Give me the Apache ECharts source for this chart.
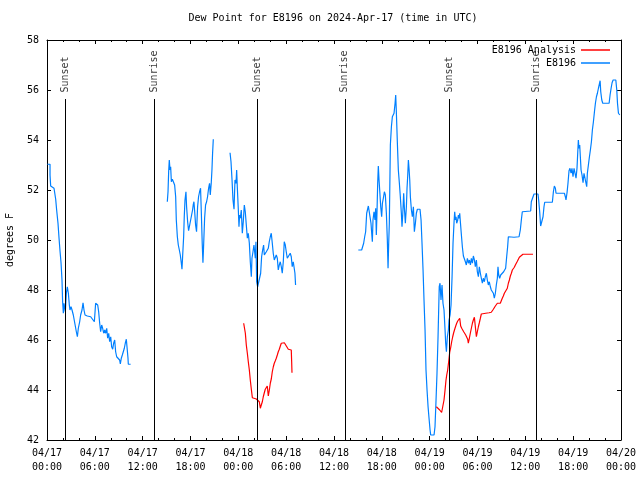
<!DOCTYPE html>
<html><head><meta charset="utf-8">
<script src="https://cdn.jsdelivr.net/npm/echarts@6/dist/echarts.min.js"></script>
<style>html,body{margin:0;padding:0;background:#fff}#c{width:640px;height:480px}</style>
</head><body><div id="c"></div>
<script>
// Hours since 2024-04-17 00:00 UTC; null marks a gap in the record
const blueHours = [
0.04,0.38,0.38,0.46,0.88,1.09,1.21,1.38,1.51,1.63,1.76,1.88,1.96,2.05,2.13,2.3,2.43,2.55,2.68,2.8,2.88,3.01,3.14,3.3,3.51,3.68,3.81,3.93,4.1,4.22,4.39,4.52,4.64,4.77,5.06,5.48,5.69,5.94,6.1,6.19,6.36,6.48,6.61,6.73,6.86,6.98,7.11,7.24,7.36,7.49,7.61,7.74,7.86,7.99,8.11,8.24,8.36,8.49,8.61,8.74,8.95,9.11,9.2,9.32,9.45,9.57,9.7,9.82,9.95,10.07,10.16,10.2,10.49,
12.8,
15.09,15.18,15.26,15.34,15.43,15.51,15.6,15.72,15.85,16.01,16.14,16.22,16.35,16.47,16.6,16.72,16.85,16.93,17.01,17.14,17.22,17.31,17.43,17.51,17.64,17.76,18.01,18.14,18.26,18.34,18.43,18.51,18.64,18.76,18.89,19.01,19.14,19.26,19.35,19.47,19.56,19.64,19.77,19.89,20.02,20.14,20.27,20.39,20.48,20.6,20.69,20.77,20.86,
21.9,
22.96,23.08,23.21,23.33,23.46,23.58,23.71,23.79,23.87,24.0,24.08,24.16,24.25,24.37,24.5,24.62,24.75,24.87,25.0,25.13,25.25,25.38,25.5,25.63,25.71,25.84,25.96,26.05,26.13,26.21,26.3,26.42,26.67,26.8,26.92,27.05,27.17,27.26,27.38,27.51,27.63,27.76,27.88,28.01,28.13,28.26,28.38,28.51,28.63,28.76,28.89,29.01,29.14,29.26,29.39,29.51,29.64,29.76,29.89,30.01,30.14,30.26,30.39,30.51,30.64,30.76,30.89,31.01,31.1,31.18,
35.0,
39.05,39.47,39.6,39.72,39.85,39.97,40.1,40.22,40.31,40.52,40.64,40.73,40.81,40.89,41.02,41.14,41.23,41.31,41.39,41.48,41.56,41.65,41.73,41.86,41.98,42.07,42.19,42.32,42.44,42.57,42.69,42.78,42.86,42.94,43.07,43.2,43.32,43.45,43.53,43.66,43.74,43.82,43.95,44.07,44.2,44.32,44.45,44.53,44.62,44.74,44.83,44.95,45.08,45.16,45.24,45.33,45.41,45.5,45.58,45.71,45.83,45.96,46.08,46.21,46.33,46.46,46.79,46.92,47.04,47.17,47.29,47.42,47.54,47.67,47.8,47.92,48.05,48.13,48.55,48.67,48.8,48.92,49.05,49.13,49.2,49.3,49.42,49.55,49.67,49.8,49.93,50.01,50.1,50.22,50.35,50.43,50.56,50.68,50.81,50.93,51.06,51.14,51.23,51.31,51.39,51.52,51.6,51.69,51.77,51.85,51.98,52.1,52.23,52.35,52.48,52.6,52.73,52.86,52.98,53.11,53.23,53.36,53.48,53.61,53.73,53.86,53.98,54.11,54.23,54.36,54.48,54.61,54.73,54.86,54.98,55.11,55.23,55.36,55.48,55.61,55.73,55.86,55.99,56.11,56.24,56.36,56.49,56.57,56.66,56.78,56.91,57.03,57.16,57.28,57.41,57.53,57.66,57.78,57.87,58.58,59.21,59.37,59.5,59.62,59.75,60.67,60.75,61.0,61.09,61.59,61.67,61.8,61.92,62.09,62.22,62.34,62.43,63.39,63.52,63.64,63.77,63.85,64.9,65.02,65.1,65.23,65.35,65.48,65.6,65.73,65.85,65.98,66.11,66.23,66.36,66.48,66.57,66.65,66.73,66.82,66.9,66.99,67.11,67.24,67.36,67.49,67.61,67.7,67.78,67.91,68.04,68.16,68.29,68.41,68.54,68.67,68.79,68.92,69.04,69.17,69.29,69.38,69.46,69.59,69.71,70.51,70.63,70.76,70.88,71.01,71.35,71.47,71.56,71.68,71.85
];
const blueDewF = [
53.03,53.03,52.6,52.16,52.07,51.63,51.2,50.67,50.07,49.57,49.09,48.4,47.53,47.07,47.47,47.13,47.87,48.13,47.87,47.4,47.2,47.33,47.2,47.0,46.93,46.33,46.13,46.47,46.73,47.0,47.2,47.49,47.2,47.0,46.96,46.93,46.87,46.73,47.47,47.53,47.4,47.13,46.67,46.33,46.6,46.47,46.27,46.4,46.27,46.47,46.07,46.27,45.93,46.13,45.73,45.63,45.87,46.0,45.53,45.33,45.31,45.2,45.04,45.27,45.4,45.53,45.67,45.87,46.03,45.6,45.27,45.03,45.03,
null,
51.53,51.93,52.73,53.2,52.8,52.93,52.33,52.43,52.33,52.2,51.73,50.8,50.13,49.8,49.6,49.4,49.07,48.83,49.33,50.13,50.96,51.6,51.93,51.33,50.73,50.37,50.37,51.0,51.2,51.4,51.53,51.2,50.6,50.33,51.33,51.73,51.93,52.07,51.2,49.87,49.09,49.73,50.87,51.4,51.53,51.73,52.07,52.27,51.8,52.27,52.8,53.47,54.03,
null,
53.49,53.13,52.4,51.6,51.23,52.4,52.27,52.8,52.13,51.2,50.53,51.0,50.87,51.2,50.27,50.73,51.4,51.13,50.6,50.07,50.27,49.87,49.13,48.53,49.27,49.53,49.8,49.87,49.27,49.93,48.33,48.13,48.16,48.67,49.33,49.6,49.8,49.4,49.47,49.53,49.49,49.67,49.93,50.13,50.27,49.87,49.47,49.2,49.13,49.4,49.27,48.8,49.0,49.13,48.93,48.67,49.13,49.93,49.8,49.53,49.27,49.2,49.33,49.47,49.33,48.93,49.13,49.13,48.67,48.2,
null,
49.6,49.6,49.67,49.87,50.13,50.33,51.07,51.13,51.36,51.36,50.67,50.27,49.93,50.8,51.13,50.8,51.27,50.2,51.07,52.27,52.96,52.4,52.0,51.33,50.93,51.47,51.67,51.93,51.8,51.07,50.0,48.87,49.87,50.67,53.8,54.53,54.93,54.87,55.07,55.47,55.8,55.13,53.87,52.8,52.27,51.73,51.07,50.53,51.0,51.87,51.27,50.67,51.33,52.07,52.53,53.2,52.87,52.4,51.73,51.2,50.93,51.33,50.33,50.67,51.07,51.23,51.23,50.8,49.87,48.8,47.6,46.4,44.8,44.0,43.33,42.87,42.4,42.2,42.2,42.53,43.6,44.67,46.13,47.2,48.13,48.27,47.6,48.2,47.47,47.2,46.4,45.87,45.53,46.13,46.4,46.8,47.0,47.4,48.53,49.87,50.73,51.13,50.8,50.93,50.67,50.8,51.0,50.87,51.07,50.73,50.2,49.73,49.36,49.36,49.13,49.0,49.27,49.07,49.2,49.0,49.27,49.07,49.36,49.2,48.93,49.2,48.73,48.53,48.93,48.67,48.47,48.27,48.47,48.33,48.53,48.67,48.4,48.2,48.33,48.13,48.0,47.93,47.87,47.67,47.87,48.2,48.47,48.93,48.6,48.47,48.6,48.53,48.6,48.73,48.73,48.87,49.33,49.73,50.13,50.11,50.13,50.4,50.8,51.13,51.16,51.16,51.53,51.53,51.84,51.84,51.6,51.13,50.56,50.56,50.93,51.33,51.51,51.51,51.93,52.16,52.07,51.87,51.87,51.73,51.6,51.89,52.27,52.77,52.87,52.67,52.87,52.53,52.87,52.93,52.47,52.87,53.47,54.0,53.67,53.8,53.33,52.8,52.6,52.29,52.67,52.6,52.27,52.13,52.67,53.0,53.33,53.6,53.93,54.4,54.73,55.13,55.47,55.73,55.87,56.07,56.24,56.37,55.93,55.6,55.47,55.47,55.8,56.07,56.29,56.4,56.4,56.0,55.47,55.07,55.0
];
const redHours = [
24.67,24.8,24.88,25.0,25.13,25.25,25.38,25.5,25.63,25.76,26.0,26.26,26.51,26.63,26.76,26.88,27.01,27.13,27.26,27.38,27.51,27.63,27.76,27.89,28.01,28.14,28.26,28.39,28.51,28.64,28.76,28.89,29.01,29.14,29.27,29.39,29.52,29.64,29.77,29.89,30.02,30.14,30.27,30.39,30.52,30.64,30.69,30.73,
40.0,
48.84,49.05,49.26,49.5,49.72,49.8,49.93,50.05,50.14,50.26,50.39,50.51,50.64,50.76,50.89,51.01,51.14,51.27,51.39,51.52,51.64,51.77,51.89,52.02,52.14,52.27,52.39,52.52,52.65,52.77,52.85,52.98,53.1,53.23,53.36,53.48,53.61,53.73,53.86,53.98,54.11,54.23,54.36,54.48,54.61,55.03,55.45,55.73,55.86,55.99,56.11,56.24,56.36,56.49,56.86,56.99,57.11,57.24,57.37,57.49,57.62,57.74,57.87,58.0,58.12,58.25,58.37,58.5,58.62,58.75,58.87,59.0,59.12,59.25,59.37,59.7,60.96
];
const redDewF = [
46.67,46.64,46.27,45.8,45.47,45.13,44.8,44.4,44.03,43.69,43.67,43.64,43.6,43.53,43.27,43.4,43.53,43.73,43.89,44.03,44.11,44.16,43.76,44.0,44.27,44.45,44.73,44.93,45.07,45.17,45.27,45.4,45.53,45.63,45.76,45.87,45.95,45.95,45.89,45.83,45.76,45.69,45.63,45.6,45.57,45.6,45.13,44.69,
null,
43.33,43.27,43.2,43.1,43.03,43.6,44.0,44.4,44.6,44.8,45.15,45.5,45.7,45.93,46.13,46.29,46.43,46.56,46.67,46.76,46.83,46.87,46.56,46.47,46.4,46.33,46.27,46.2,46.13,46.03,45.87,46.07,46.27,46.47,46.67,46.8,46.91,46.53,46.13,46.33,46.53,46.69,46.87,47.04,47.07,47.07,47.09,47.11,47.16,47.23,47.29,47.36,47.43,47.47,47.47,47.53,47.67,47.76,47.87,47.93,47.93,48.07,48.27,48.4,48.56,48.67,48.8,48.83,48.91,49.0,49.07,49.15,49.2,49.31,49.37,49.43,49.43
];
const eventHours = [2.3, 13.43, 26.37, 37.36, 50.46, 61.33];
const eventLabels = ['Sunset', 'Sunrise', 'Sunset', 'Sunrise', 'Sunset', 'Sunrise'];
const xTickLabels = ['04/17\n00:00','04/17\n06:00','04/17\n12:00','04/17\n18:00','04/18\n00:00','04/18\n06:00','04/18\n12:00','04/18\n18:00','04/19\n00:00','04/19\n06:00','04/19\n12:00','04/19\n18:00','04/20\n00:00'];
const yTickLabels = ['42','44','46','48','50','52','54','56','58'];
const seriesNames = ['E8196 Analysis', 'E8196'];
const titleText = 'Dew Point for E8196 on 2024-Apr-17 (time in UTC)';
const yAxisTitle = 'degrees F';

const FONT = "'DejaVu Sans Mono','Liberation Mono',monospace";
const pair = (xs, ys) => xs.map((x, i) => [x, ys[i] === null ? '-' : ys[i]]);
const LINE_TOP = 55.64, LABEL_BASE = 55.9;

const tickCommon = {inside: true, length: 4, lineStyle: {color: '#000', width: 1}};
const minorCommon = {show: true, splitNumber: 3, length: 2, lineStyle: {color: '#000', width: 1}};
const lineCommon = {show: true, onZero: false, lineStyle: {color: '#000', width: 1}};

const chart = echarts.init(document.getElementById('c'), null, {renderer: 'canvas'});
chart.setOption({
  animation: false,
  backgroundColor: '#fff',
  title: {text: titleText, left: 333, textAlign: 'center', top: 13, padding: 0,
    textStyle: {fontFamily: FONT, fontSize: 10, fontWeight: 'normal', color: '#000'}},
  legend: {data: seriesNames, orient: 'vertical', align: 'right', right: 30, top: 45, padding: 0,
    icon: 'rect', itemWidth: 29, itemHeight: 1.5, itemGap: 3,
    textStyle: {fontFamily: FONT, fontSize: 10, color: '#000', lineHeight: 10}},
  grid: {left: 47, right: 19, top: 40, bottom: 40, containLabel: false, outerBoundsMode: 'none'},
  xAxis: [
    {type: 'value', min: 0, max: 72, interval: 6, position: 'bottom',
      axisLine: lineCommon, axisTick: tickCommon, minorTick: minorCommon, splitLine: {show: false},
      axisLabel: {margin: 6, fontFamily: FONT, fontSize: 10, color: '#000', lineHeight: 14,
        formatter: v => xTickLabels[Math.round(v / 6)]}},
    {type: 'value', min: 0, max: 72, interval: 6, position: 'top',
      axisLine: lineCommon, axisTick: tickCommon, minorTick: minorCommon, splitLine: {show: false},
      axisLabel: {show: false}}
  ],
  yAxis: [
    {type: 'value', min: 42, max: 58, interval: 2, position: 'left',
      axisLine: lineCommon, axisTick: tickCommon, splitLine: {show: false},
      name: yAxisTitle, nameLocation: 'middle', nameGap: 32, nameRotate: 90,
      nameTextStyle: {fontFamily: FONT, fontSize: 10, color: '#000'},
      axisLabel: {margin: 8, fontFamily: FONT, fontSize: 10, color: '#000',
        formatter: v => yTickLabels[Math.round((v - 42) / 2)]}},
    {type: 'value', min: 42, max: 58, interval: 2, position: 'right',
      axisLine: lineCommon, axisTick: tickCommon, splitLine: {show: false},
      axisLabel: {show: false}}
  ],
  series: [
    {name: seriesNames[0], type: 'line', data: pair(redHours, redDewF), showSymbol: false, symbol: 'none',
      connectNulls: false, color: '#ff0000', lineStyle: {color: '#ff0000', width: 1.2}, z: 3},
    {name: seriesNames[1], type: 'line', data: pair(blueHours, blueDewF), showSymbol: false, symbol: 'none',
      connectNulls: false, color: '#0080ff', lineStyle: {color: '#0080ff', width: 1.2}, z: 2},
    {name: 'events', type: 'scatter', symbolSize: 0, silent: true, z: 4,
      data: eventHours.map((h, i) => ({value: [h, LABEL_BASE], name: eventLabels[i]})),
      label: {show: true, formatter: p => p.name, position: [0, 0], rotate: 90, align: 'left', verticalAlign: 'middle',
        fontFamily: FONT, fontSize: 10, color: '#000'},
      markLine: {silent: true, symbol: 'none', label: {show: false},
        lineStyle: {color: '#000', width: 1, type: 'solid'},
        data: eventHours.map(h => [{coord: [h, 42]}, {coord: [h, LINE_TOP]}])}}
  ]
});
</script></body></html>
